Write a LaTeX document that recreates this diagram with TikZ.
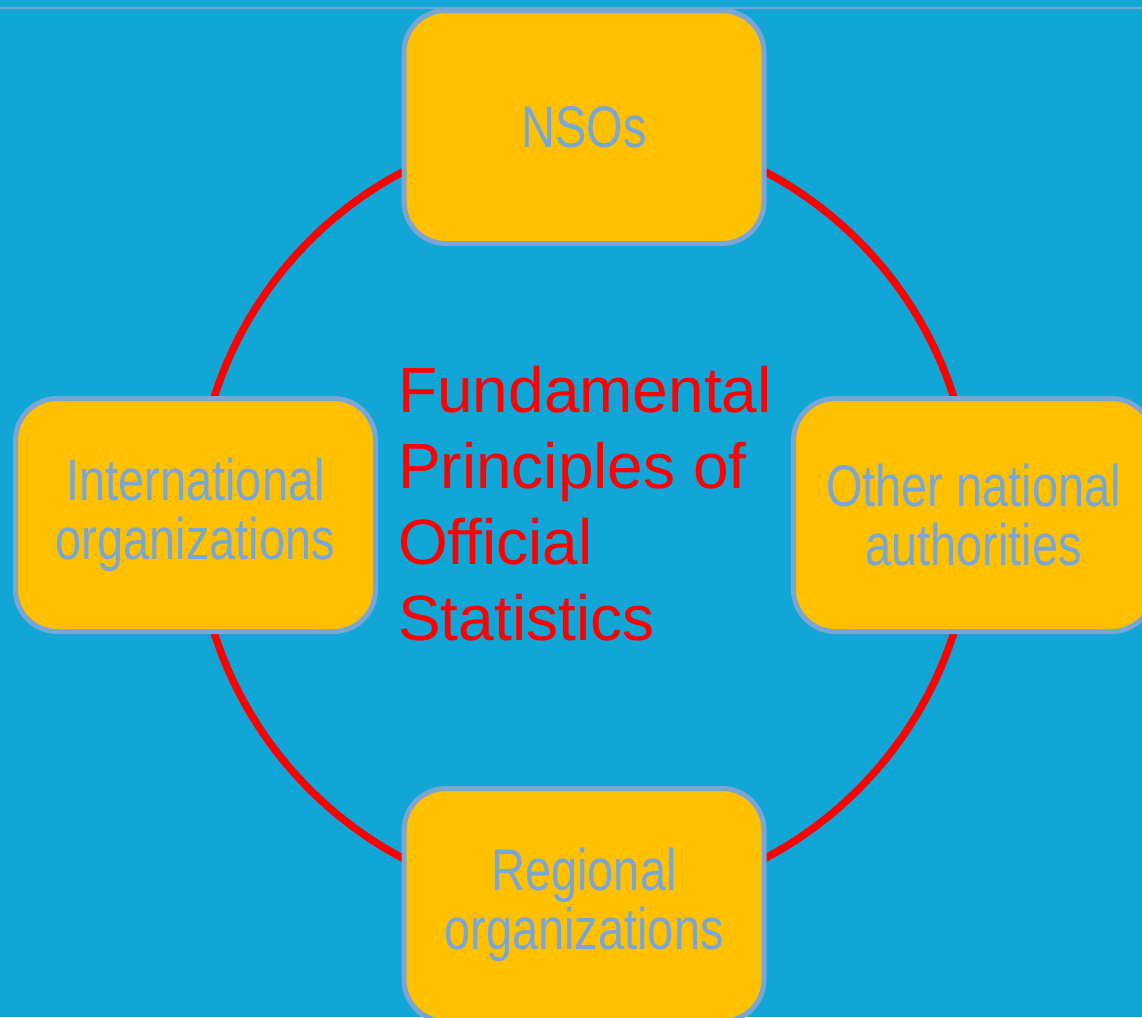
\documentclass[tikz,border=0pt]{standalone}
\usepackage{fontspec}
\usepackage{xcolor}
\usetikzlibrary{backgrounds}
\setmainfont{Liberation Sans}
\newfontfamily\narrowfont[FakeStretch=0.8]{Liberation Sans}
\definecolor{bgblue}{RGB}{18,166,215}
\definecolor{boxyellow}{RGB}{255,192,0}
\definecolor{edgeblue}{RGB}{122,166,214}
\tikzset{
  org/.style={draw=edgeblue, line width=5pt, fill=boxyellow, rounded corners=42pt,
    minimum width=360pt, minimum height=233pt, align=center, text=edgeblue,
    font=\narrowfont\fontsize{58.7}{59}\selectfont},
  ring/.style={red, line width=7.5pt}
}

\begin{document}
\begin{tikzpicture}[x=1pt,y=-1pt]
    \useasboundingbox (0,0) rectangle (1142,1017);
    % the four partners
    \node[org] (nso) at (584,127) {NSOs};
    \node[org] (intl) at (195.5,515) {International\\organizations};
    \node[org] (other) at (973.5,515) {Other national\\authorities};
    \node[org] (reg) at (584,905) {Regional\\organizations};
    \node[anchor=north west, align=left, inner sep=0pt, text=red,
      font=\fontsize{64}{76}\selectfont] (fpos) at (398,366)
      {Fundamental\\Principles of\\Official\\Statistics};
    \begin{scope}[on background layer]
      \fill[bgblue] (0,0) rectangle (1142,1017);
      \draw[edgeblue, line width=2pt] (0,8) -- (1142,8);
      \draw[ring] (nso.center |- intl.center) circle[radius=388pt];
    \end{scope}
\end{tikzpicture}
\end{document}
